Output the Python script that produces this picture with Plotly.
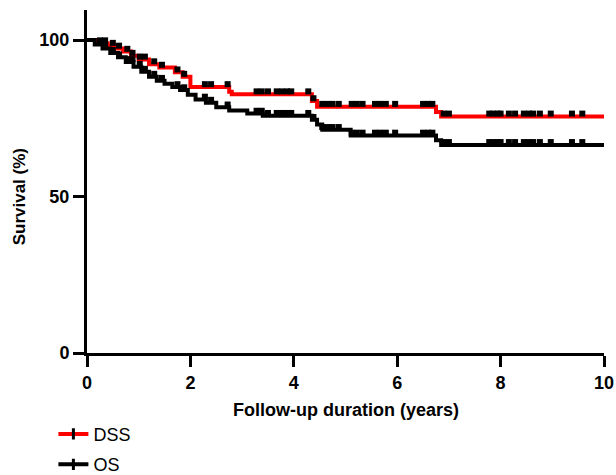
import numpy as np
import plotly.graph_objects as go

# ---- data ----
dss_times = [0.2, 0.4, 0.55, 0.7, 0.85, 1.0, 1.2, 1.4, 1.7, 1.85, 2.0, 2.75, 2.8, 4.35, 4.45, 6.75, 6.85]
dss_surv = [99.0, 98.2, 97.3, 96.3, 95.0, 93.8, 92.3, 91.2, 89.7, 88.3, 85.0, 83.5, 82.7, 80.5, 78.7, 77.0, 75.6]

os_times = [0.15, 0.3, 0.45, 0.6, 0.75, 0.9, 1.05, 1.2, 1.35, 1.5, 1.65, 1.8, 1.95, 2.1, 2.3, 2.5, 2.75,
            3.1, 3.4, 4.35, 4.45, 4.55, 5.1, 6.75, 6.85]
os_surv = [98.6, 97.3, 95.9, 94.5, 93.0, 91.5, 89.9, 88.3, 87.0, 86.0, 85.0, 84.0, 82.5, 81.0, 80.0, 78.5,
           77.5, 76.5, 75.8, 74.5, 73.0, 71.3, 69.5, 68.0, 66.5]

censor_times = [0.25, 0.35, 0.5, 0.62, 0.78, 0.88, 1.02, 1.12, 1.3, 1.45, 1.75, 1.88,
                2.28, 2.4, 2.72, 3.28, 3.38, 3.5, 3.67, 3.77, 3.87, 3.95, 4.28, 4.38,
                4.55, 4.65, 4.75, 4.87, 5.12, 5.22, 5.33, 5.57, 5.67, 5.78, 5.96,
                6.5, 6.6, 6.68, 6.9, 7.0, 7.78, 7.86, 7.94, 8.0, 8.16, 8.28, 8.45,
                8.55, 8.63, 8.76, 8.97, 9.38, 9.58]

x_end = 10
x_ticks = [0, 2, 4, 6, 8, 10]
y_ticks = [0, 50, 100]

FONT = "Liberation Sans, Arial, sans-serif"


def step_path(times, surv):
    xs = [0] + list(times) + [x_end]
    ys = [100] + list(surv) + [surv[-1]]
    return xs, ys


def value_at(times, surv, t):
    idx = np.searchsorted(np.array(times), t, side="right")
    return 100.0 if idx == 0 else surv[idx - 1]


fig = go.Figure()

series = [("DSS", dss_times, dss_surv, "#ff0000"), ("OS", os_times, os_surv, "#000000")]
for name, t, s, col in series:
    xs, ys = step_path(t, s)
    fig.add_trace(go.Scatter(x=xs, y=ys, mode="lines", line=dict(color=col, width=4, shape="hv"),
                             showlegend=False, hoverinfo="skip", cliponaxis=False))
    cy = [value_at(t, s, c) + 0.9 for c in censor_times]
    fig.add_trace(go.Scatter(x=censor_times, y=cy, mode="markers",
                             marker=dict(symbol="square", size=6, color="black", line=dict(width=0)),
                             showlegend=False, hoverinfo="skip", cliponaxis=False))

for i, (name, t, s, col) in enumerate(series):
    fig.add_trace(go.Scatter(x=[None], y=[None], mode="lines+markers", name=name,
                             legendgroup=name,
                             line=dict(color=col, width=4),
                             marker=dict(symbol="line-ns", size=8, color="black",
                                         line=dict(width=3, color="black"))))

axis_common = dict(showline=True, linewidth=3, linecolor="black",
                   ticks="outside", ticklen=11, tickwidth=3, tickcolor="black",
                   showgrid=False, zeroline=False, automargin=False,
                   tickfont=dict(size=18, family=FONT, weight="bold", color="black"),
                   fixedrange=True)

fig.update_layout(
    width=616, height=475,
    margin=dict(l=87, r=12, t=10, b=122, autoexpand=False),
    plot_bgcolor="white", paper_bgcolor="white",
    font=dict(family=FONT, color="black"),
    showlegend=True,
    legend=dict(x=-0.065, y=-0.183, xanchor="left", yanchor="top",
                font=dict(size=18, family=FONT),
                tracegroupgap=4, itemwidth=30, bgcolor="rgba(0,0,0,0)"),
    xaxis=dict(range=[0, 10], tickvals=x_ticks, ticktext=[str(v) for v in x_ticks], **axis_common),
    yaxis=dict(range=[0, 109.6], tickvals=y_ticks, ticktext=[str(v) for v in y_ticks], **axis_common),
    annotations=[
        dict(text="Survival (%)", textangle=-90, x=-0.13, y=50, xref="paper", yref="y",
             showarrow=False, font=dict(size=17, weight="bold"), xanchor="center", yanchor="middle"),
        dict(text="Follow-up duration (years)", x=0.5, y=-0.165, xref="paper", yref="paper",
             showarrow=False, font=dict(size=18, weight="bold"), xanchor="center", yanchor="middle"),
    ],
)

fig.write_html("out.html", config={"displayModeBar": False},
               post_script="document.body.style.margin='0';document.body.style.overflow='hidden';")
